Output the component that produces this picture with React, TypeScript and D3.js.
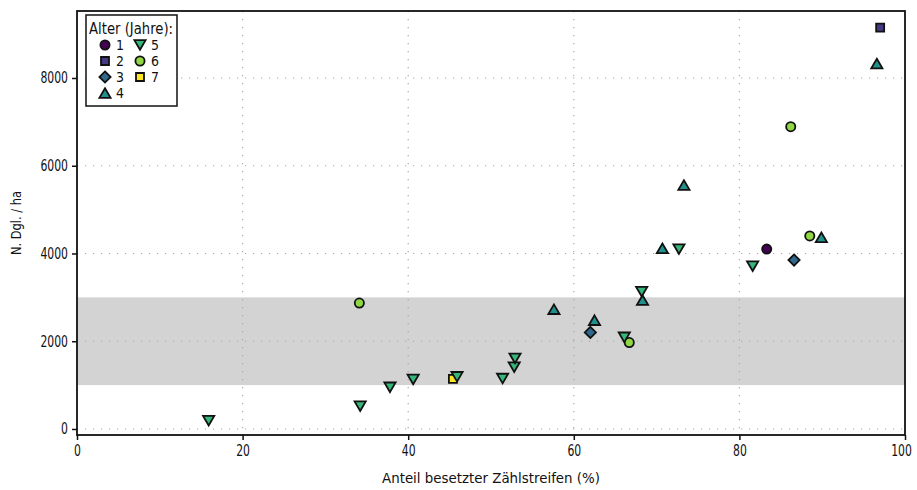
import * as d3 from 'd3'
import React, { useEffect, useRef } from 'react'

// age classes (Jahre) and their colours
const ages = ['1', '2', '3', '4', '5', '6', '7']
const ageColors = ['#440154', '#443983', '#31688e', '#21918c', '#35b779', '#90d743', '#fde725']
const ageShapes = ['circle', 'square', 'diamond', 'up', 'down', 'circle', 'square']

// [Anteil besetzter Zählstreifen %, N. Dgl./ha]
const age1 = [[83.3, 4100]]
const age2 = [[97.0, 9150]]
const age3 = [[62.0, 2200], [86.6, 3850]]
const age4 = [[57.6, 2730], [62.5, 2480], [68.3, 2940], [70.7, 4120], [73.3, 5560], [89.9, 4370], [96.6, 8330]]
const age5 = [[15.9, 190], [34.2, 520], [37.8, 950], [40.6, 1130], [45.9, 1190], [51.4, 1150], [52.8, 1410], [52.9, 1610], [66.1, 2090], [68.2, 3130], [72.7, 4100], [81.6, 3710]]
const age6 = [[34.1, 2870], [66.7, 1970], [86.2, 6890], [88.5, 4400]]
const age7 = [[45.4, 1140]]
const ageData = [age1, age2, age3, age4, age5, age6, age7]
const drawOrder = [6, 5, 0, 1, 2, 3, 4]

const xTicks = [0, 20, 40, 60, 80, 100]
const yTicks = [0, 2000, 4000, 6000, 8000]
const band = [1000, 3000]

const FONT = "'DejaVu Sans', sans-serif"

const markerPath = (shape: string, x: number, y: number) => {
  const p = d3.path()
  if (shape === 'circle') {
    p.arc(x, y, 4.6, 0, 2 * Math.PI)
  } else if (shape === 'square') {
    p.rect(x - 4, y - 4, 8, 8)
  } else if (shape === 'diamond') {
    p.moveTo(x, y - 5.6); p.lineTo(x + 5.6, y); p.lineTo(x, y + 5.6); p.lineTo(x - 5.6, y); p.closePath()
  } else if (shape === 'up') {
    p.moveTo(x, y - 4.8); p.lineTo(x + 5.6, y + 4.8); p.lineTo(x - 5.6, y + 4.8); p.closePath()
  } else {
    p.moveTo(x, y + 4.8); p.lineTo(x + 5.6, y - 4.8); p.lineTo(x - 5.6, y - 4.8); p.closePath()
  }
  return p.toString()
}

// narrow look: the original uses a condensed font, squeeze glyphs to its widths
const style = (sel: any, size: number) =>
  sel.style('font-family', FONT).style('font-size', size + 'px').attr('fill', '#111')

const ScatterChart = () => {
  const chartRef = useRef(null)

  useEffect(() => {
    const width = 917
    const height = 490
    const left = 77, right = 905, top = 11, bottom = 435

    const svg = d3.select(chartRef.current)
      .attr('width', width)
      .attr('height', height)
    svg.selectAll('*').remove()

    const x = d3.scaleLinear().domain([0, 100]).range([left, right])
    const y = d3.scaleLinear().domain([-137, 9527]).range([bottom, top])

    // reference band
    svg.append('rect')
      .attr('x', left).attr('width', right - left)
      .attr('y', y(band[1])).attr('height', y(band[0]) - y(band[1]))
      .attr('fill', '#d3d3d3')

    // grid
    svg.selectAll('.vgrid')
      .data(xTicks.slice(1, -1))
      .enter().append('line')
      .attr('x1', d => x(d)).attr('x2', d => x(d))
      .attr('y1', top).attr('y2', bottom)
      .attr('stroke', '#a8a8a8').attr('stroke-width', 1.2)
      .attr('stroke-dasharray', '1.2,6.8')
    svg.selectAll('.hgrid')
      .data(yTicks)
      .enter().append('line')
      .attr('x1', left).attr('x2', right)
      .attr('y1', d => y(d)).attr('y2', d => y(d))
      .attr('stroke', '#a8a8a8').attr('stroke-width', 1.2)
      .attr('stroke-dasharray', '1.2,6.8')

    // frame
    svg.append('rect')
      .attr('x', left).attr('y', top)
      .attr('width', right - left).attr('height', bottom - top)
      .attr('fill', 'none').attr('stroke', '#111').attr('stroke-width', 1.8)

    // axes
    const xAxis = svg.append('g')
      .attr('transform', `translate(0, ${bottom})`)
      .call(d3.axisBottom(x).tickValues(xTicks).tickSize(5).tickPadding(5))
    const yAxis = svg.append('g')
      .attr('transform', `translate(${left}, 0)`)
      .call(d3.axisLeft(y).tickValues(yTicks).tickSize(5).tickPadding(4).tickFormat(d3.format('d')))
    ;[xAxis, yAxis].forEach(g => {
      g.select('.domain').remove()
      g.selectAll('line').attr('stroke', '#111').attr('stroke-width', 1.5)
      style(g.selectAll('text'), 15)
        .attr('textLength', (d: number) => String(d).length * 6.9)
        .attr('lengthAdjust', 'spacingAndGlyphs')
    })
    // keep the last label inside the page
    xAxis.selectAll('.tick').filter((d: any) => d === 100).select('text').attr('dx', -4)

    style(svg.append('text'), 14)
      .attr('x', (left + right) / 2).attr('y', 483)
      .attr('text-anchor', 'middle')
      .attr('textLength', 218).attr('lengthAdjust', 'spacingAndGlyphs')
      .text('Anteil besetzter Zählstreifen (%)')
    style(svg.append('text'), 14)
      .attr('transform', `translate(21, ${(top + bottom) / 2}) rotate(-90)`)
      .attr('text-anchor', 'middle')
      .attr('textLength', 64).attr('lengthAdjust', 'spacingAndGlyphs')
      .text('N. Dgl. / ha')

    // points
    drawOrder.forEach(i => {
      svg.append('g').selectAll('path')
        .data(ageData[i])
        .enter().append('path')
        .attr('d', d => markerPath(ageShapes[i], x(d[0]), y(d[1])))
        .attr('fill', ageColors[i])
        .attr('stroke', '#111').attr('stroke-width', 1.8)
    })

    // legend
    const lg = svg.append('g')
    lg.append('rect')
      .attr('x', 86).attr('y', 15).attr('width', 91).attr('height', 91)
      .attr('fill', 'white').attr('stroke', '#111').attr('stroke-width', 1.5)
    style(lg.append('text'), 16)
      .attr('x', 89).attr('y', 34)
      .attr('textLength', 84).attr('lengthAdjust', 'spacingAndGlyphs')
      .text('Alter (Jahre):')
    ages.forEach((a, i) => {
      const col = i < 4 ? 0 : 1
      const row = i < 4 ? i : i - 4
      const cx = col === 0 ? 105 : 140
      const cy = 45 + row * 16
      lg.append('path')
        .attr('d', markerPath(ageShapes[i], cx, cy))
        .attr('fill', ageColors[i])
        .attr('stroke', '#111').attr('stroke-width', 1.8)
      style(lg.append('text'), 13.5)
        .attr('x', cx + 11).attr('y', cy + 5)
        .attr('textLength', 8).attr('lengthAdjust', 'spacingAndGlyphs')
        .text(a)
    })
  }, [])

  return <svg ref={chartRef} style={{ position: 'absolute', left: 0, top: 0 }}></svg>
}

export default function App() {
  return <ScatterChart />
}
